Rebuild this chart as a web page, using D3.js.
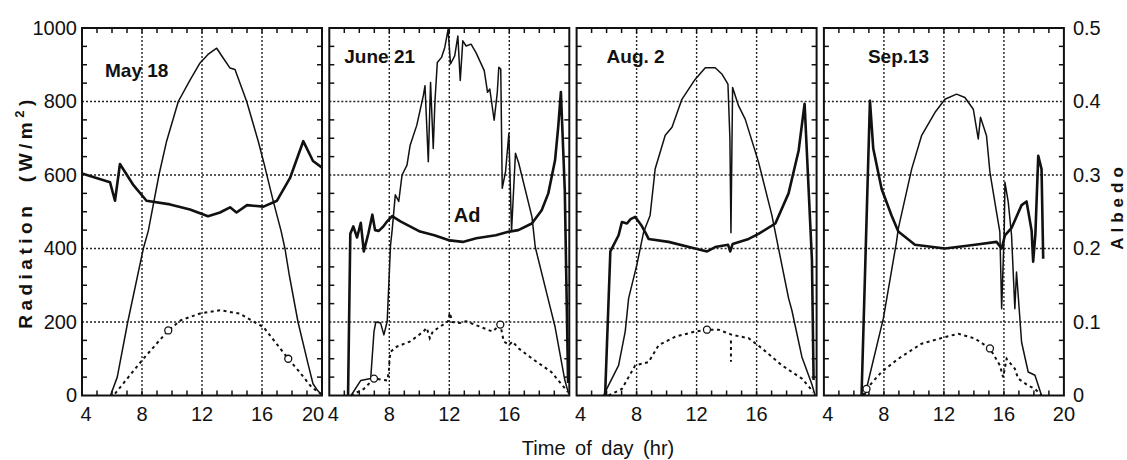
<!DOCTYPE html>
<html lang="en">
<head>
    <meta charset="UTF-8">
    <title>Radiation and albedo</title>
    <script src="https://cdn.jsdelivr.net/npm/d3@7"></script>
    <style>
        html, body {
            margin: 0;
            padding: 0;
            background: #fff;
            overflow: hidden;
        }
        .frame {
            fill: none;
            stroke: #111;
            stroke-width: 2px;
        }
        .grid {
            stroke: #222;
            stroke-width: 1.4px;
            stroke-dasharray: 2, 2;
        }
        .tick-mark {
            stroke: #111;
            stroke-width: 1.5px;
        }
        .solar {
            fill: none;
            stroke: #111;
            stroke-width: 1.5px;
            stroke-linejoin: round;
        }
        .albedo {
            fill: none;
            stroke: #111;
            stroke-width: 2.6px;
            stroke-linejoin: round;
        }
        .reflect {
            fill: none;
            stroke: #111;
            stroke-width: 2px;
            stroke-dasharray: 3, 3.5;
        }
        .marker {
            fill: #fff;
            stroke: #111;
            stroke-width: 1.3px;
        }
        .num {
            font-family: "Liberation Sans", Arial, sans-serif;
            font-size: 20px;
            fill: #111;
        }
        .date {
            font-family: "Liberation Sans", Arial, sans-serif;
            font-size: 19px;
            font-weight: bold;
            fill: #111;
        }
        .title {
            font-family: "Liberation Sans", Arial, sans-serif;
            font-size: 19px;
            font-weight: bold;
            fill: #111;
        }
    </style>
</head>
<body>
<script>
    // panel titles
    let dates = ['May 18', 'June 21', 'Aug. 2', 'Sep.13'];

    // tick values
    let hourTicks = [[4, 8, 12, 16, 20], [4, 8, 12, 16], [4, 8, 12, 16], [4, 8, 12, 16, 20]];
    let radTicks = [0, 200, 400, 600, 800, 1000];
    let albedoTicks = [0, 0.1, 0.2, 0.3, 0.4, 0.5];
    let gridHours = [8, 12, 16];

    // [hour, W/m2] global radiation (thin line)
    let maySolar = [[5.9, 0], [6.35, 50], [7.05, 200], [8.09, 400], [8.42, 448], [9.13, 600], [9.64, 692], [10.42, 800],
        [11.2, 858], [11.87, 905], [12.4, 928], [12.98, 945], [13.4, 919], [13.87, 891], [14.2, 887], [14.98, 800],
        [15.75, 692], [16.15, 629], [16.75, 529], [17.27, 448], [17.53, 400], [17.8, 332], [18.4, 200], [19.07, 86],
        [19.4, 32], [19.7, 14], [20, 0]];
    let juneSolar = [[5.45, 0], [6.1, 41], [6.76, 46], [6.98, 174], [7.1, 200], [7.42, 197], [7.64, 165], [7.86, 202],
        [8.08, 408], [8.19, 450], [8.4, 546], [8.63, 528], [8.85, 600], [9.18, 627], [9.39, 681], [9.83, 735],
        [10.27, 816], [10.38, 843], [10.6, 636], [10.75, 852], [10.93, 672], [11.04, 798], [11.2, 906], [11.48, 920],
        [11.7, 947], [11.92, 996], [12.08, 902], [12.36, 924], [12.57, 978], [12.73, 857], [12.9, 965], [13.12, 951],
        [13.45, 956], [13.78, 933], [14.33, 884], [14.55, 825], [14.7, 834], [14.99, 749], [15.2, 825], [15.3, 893],
        [15.43, 888], [15.53, 564], [15.75, 609], [15.97, 713], [16.15, 447], [16.41, 659], [16.63, 632],
        [17.51, 486], [17.73, 404], [18.72, 241], [19.05, 187], [19.7, 42], [19.95, 5]];
    let augSolar = [[5.8, 0], [5.9, 9], [6.8, 82], [7.24, 174], [7.47, 265], [8.02, 356], [8.47, 445], [8.9, 490],
        [9.24, 617], [9.91, 708], [10.36, 730], [11.02, 806], [11.9, 860], [12.58, 892], [13.24, 892], [13.7, 874],
        [14.09, 847], [14.22, 700], [14.29, 443], [14.4, 838], [14.8, 788], [15.24, 752], [16.13, 635], [17.02, 490],
        [17.24, 445], [18.13, 265], [18.35, 232], [19.02, 105], [19.69, 30], [19.9, 0]];
    let sepSolar = [[6.73, 0], [7.96, 209], [8.84, 418], [8.96, 454], [9.85, 616], [10.51, 707], [11.4, 770],
        [12.07, 806], [12.84, 820], [13.4, 811], [13.96, 779], [14.29, 698], [14.44, 757], [14.84, 707], [15.07, 607],
        [15.51, 498], [15.73, 445], [15.85, 236], [16.02, 445], [16.07, 580], [16.29, 526], [16.51, 436], [16.73, 236],
        [16.84, 336], [17.18, 145], [17.62, 64], [18.07, 55], [18.51, 0]];

    // [hour, W/m2] reflected radiation (dashed line)
    let mayReflect = [[6.2, 5], [8.09, 100], [9.75, 177], [10.6, 205], [11.87, 223], [13.2, 232], [14.5, 223],
        [16.1, 186], [17.75, 100], [18.5, 64], [19.3, 23], [19.9, 5]];
    let juneReflect = [[5.45, 0], [6.3, 18], [6.98, 46], [7.86, 41], [7.97, 64], [8.02, 100], [8.08, 119], [8.5, 133],
        [9.39, 147], [10.27, 174], [10.5, 184], [10.7, 156], [10.9, 174], [11.92, 202], [12.03, 225], [12.2, 200],
        [12.7, 197], [13.12, 202], [14, 188], [14.88, 174], [15.4, 193], [15.63, 147], [16, 138], [16.2, 147],
        [16.63, 128], [17.5, 101], [18.8, 64], [19.9, 10]];
    let augReflect = [[6.13, 0], [7.02, 18], [7.91, 82], [8.8, 91], [9.47, 137], [10.58, 160], [11.9, 174],
        [12.69, 179], [13.47, 179], [14.36, 165], [15.47, 156], [16.36, 128], [17.69, 82], [19.02, 46], [19.8, 9]];
    let augReflectDip = [[14.29, 150], [14.29, 92]];
    let sepReflect = [[6.6, 0], [6.84, 18], [7.84, 64], [8.96, 100], [10.51, 141], [12.07, 159], [12.96, 168],
        [14.07, 155], [15.07, 128], [15.73, 82], [15.95, 50], [16.18, 100], [16.73, 73], [16.95, 46], [17.62, 27],
        [18.07, 18], [18.51, 0]];

    // hours where the reflected curve carries an "o" marker
    let mayMarks = [9.75, 17.75];
    let juneMarks = [6.98, 15.4];
    let augMarks = [12.69];
    let sepMarks = [6.84, 15.07];

    // [hour, albedo] (thick line)
    let mayAlbedo = [[4, 0.302], [5.87, 0.29], [6.2, 0.265], [6.53, 0.315], [7.4, 0.287], [8.3, 0.265], [9.87, 0.26],
        [11.2, 0.253], [12.4, 0.244], [13.2, 0.249], [13.87, 0.256], [14.3, 0.249], [15, 0.259], [16.1, 0.257],
        [17, 0.265], [17.87, 0.296], [18.75, 0.346], [19.4, 0.319], [20, 0.31]];
    let juneAlbedo = [[5.25, 0], [5.4, 0.22], [5.6, 0.23], [5.85, 0.215], [6.1, 0.235], [6.3, 0.196], [6.6, 0.22],
        [6.87, 0.246], [7.05, 0.225], [7.3, 0.224], [7.6, 0.23], [7.86, 0.237], [8.19, 0.244], [8.74, 0.237],
        [10.05, 0.223], [11, 0.218], [12.03, 0.211], [12.9, 0.209], [13.8, 0.214], [15.1, 0.218], [16, 0.223],
        [16.6, 0.225], [17.5, 0.234], [18.16, 0.252], [18.6, 0.275], [19.05, 0.32], [19.26, 0.365], [19.44, 0.413],
        [19.7, 0.279], [19.92, 0.017]];
    let augAlbedo = [[5.9, 0], [6.25, 0.196], [6.8, 0.218], [7.02, 0.236], [7.36, 0.234], [7.6, 0.24], [7.91, 0.243],
        [8.3, 0.232], [8.58, 0.222], [8.8, 0.213], [10.13, 0.209], [11.9, 0.2], [12.7, 0.196], [13.24, 0.202],
        [14.1, 0.205], [14.24, 0.196], [14.4, 0.206], [15.47, 0.213], [16.13, 0.22], [17.25, 0.234], [18.13, 0.275],
        [18.8, 0.333], [19.2, 0.397], [19.69, 0.184], [19.8, 0.021]];
    let sepAlbedo = [[6.51, 0], [7.07, 0.401], [7.29, 0.336], [7.85, 0.281], [8.51, 0.245], [8.96, 0.223],
        [10.07, 0.205], [12.07, 0.2], [14.07, 0.205], [15.51, 0.209], [15.85, 0.2], [16.07, 0.218], [16.51, 0.228],
        [17.18, 0.259], [17.51, 0.264], [17.85, 0.224], [17.95, 0.182], [18.1, 0.22], [18.29, 0.326], [18.51, 0.308],
        [18.62, 0.186]];

    let panels = [
        {date: dates[0], solar: maySolar, reflect: [mayReflect], albedo: mayAlbedo, marks: mayMarks, ticks: hourTicks[0]},
        {date: dates[1], solar: juneSolar, reflect: [juneReflect], albedo: juneAlbedo, marks: juneMarks, ticks: hourTicks[1]},
        {date: dates[2], solar: augSolar, reflect: [augReflect, augReflectDip], albedo: augAlbedo, marks: augMarks, ticks: hourTicks[2]},
        {date: dates[3], solar: sepSolar, reflect: [sepReflect], albedo: sepAlbedo, marks: sepMarks, ticks: hourTicks[3]}
    ];

    let width = 1127;
    let height = 460;
    let plotTop = 28, plotBottom = 395.5;
    let panelW = 240, firstLeft = 82, step = 247.3;
    let dateOffsets = [[23, 49], [15, 35], [30, 35], [44, 35]];

    let svg = d3.select('body').append('svg')
        .attr('width', width)
        .attr('height', height);

    let y = d3.scaleLinear().domain([0, 1000]).range([plotBottom, plotTop]);
    let ya = d3.scaleLinear().domain([0, 0.5]).range([plotBottom, plotTop]);

    panels.forEach((p, i) => {
        let left = firstLeft + i * step;
        let x = d3.scaleLinear().domain([4, 20]).range([left, left + panelW]);
        let g = svg.append('g').classed('panel', true);

        // grid
        g.selectAll('.vgrid').data(gridHours).enter().append('line')
            .classed('grid', true)
            .attr('x1', d => x(d)).attr('x2', d => x(d))
            .attr('y1', plotTop).attr('y2', plotBottom);
        g.selectAll('.hgrid').data(radTicks.slice(1, -1)).enter().append('line')
            .classed('grid', true)
            .attr('x1', left).attr('x2', left + panelW)
            .attr('y1', d => y(d)).attr('y2', d => y(d));

        // hour ticks top and bottom
        let hours = d3.range(5, 20);
        g.selectAll('.ttick').data(hours).enter().append('line')
            .classed('tick-mark', true)
            .attr('x1', d => x(d)).attr('x2', d => x(d))
            .attr('y1', plotTop).attr('y2', plotTop + 5);
        g.selectAll('.btick').data(hours).enter().append('line')
            .classed('tick-mark', true)
            .attr('x1', d => x(d)).attr('x2', d => x(d))
            .attr('y1', plotBottom).attr('y2', plotBottom - 5);

        // side ticks
        let sideVals = d3.range(50, 1000, 50).filter(v => v % 200 !== 0);
        [left, left + panelW].forEach((sx, k) => {
            g.selectAll('.stick' + k).data(sideVals).enter().append('line')
                .classed('tick-mark', true)
                .attr('x1', sx).attr('x2', k === 0 ? sx + 5 : sx - 5)
                .attr('y1', d => y(d)).attr('y2', d => y(d));
        });

        let line = d3.line().x(d => x(d[0])).y(d => y(d[1]));
        let lineA = d3.line().x(d => x(d[0])).y(d => ya(d[1]));

        g.append('path').datum(p.solar).classed('solar', true).attr('d', line);
        p.reflect.forEach(r => {
            g.append('path').datum(r).classed('reflect', true).attr('d', line);
        });
        g.append('path').datum(p.albedo).classed('albedo', true).attr('d', lineA);

        let interp = h => {
            let r = p.reflect[0];
            for (let k = 1; k < r.length; k++) {
                if (h <= r[k][0]) {
                    let t = (h - r[k - 1][0]) / (r[k][0] - r[k - 1][0]);
                    return r[k - 1][1] + t * (r[k][1] - r[k - 1][1]);
                }
            }
            return r[r.length - 1][1];
        };
        g.selectAll('.marker').data(p.marks).enter().append('circle')
            .classed('marker', true)
            .attr('cx', d => x(d))
            .attr('cy', d => y(interp(d)))
            .attr('r', 3.5);

        // frame
        g.append('rect').classed('frame', true)
            .attr('x', left).attr('y', plotTop)
            .attr('width', panelW).attr('height', plotBottom - plotTop);

        // bottom labels
        g.selectAll('.xlabel').data(p.ticks).enter().append('text')
            .classed('num', true)
            .attr('x', d => x(d) + (d === 4 ? 4 : d === 20 && i === 0 ? -9 : 0))
            .attr('y', 421)
            .attr('text-anchor', 'middle')
            .text(d => d);

        g.append('text').classed('date', true)
            .attr('x', left + dateOffsets[i][0])
            .attr('y', plotTop + dateOffsets[i][1])
            .text(p.date);

        if (i === 1) {
            g.append('text').classed('date', true)
                .attr('x', x(12.3)).attr('y', 222)
                .style('font-size', '20px')
                .text('Ad');
        }
    });

    // left axis
    svg.append('g')
        .attr('transform', `translate(${firstLeft},0)`)
        .call(d3.axisLeft(y).tickValues(radTicks).tickSize(0).tickPadding(5).tickFormat(d3.format('d')))
        .call(g => g.select('.domain').remove())
        .selectAll('text').attr('class', 'num').attr('font-size', null).attr('font-family', null);

    // right axis
    let rightX = firstLeft + 3 * step + panelW;
    svg.append('g')
        .attr('transform', `translate(${rightX},0)`)
        .call(d3.axisRight(ya).tickValues(albedoTicks).tickSize(0).tickPadding(9)
            .tickFormat(d => d === 0 ? '0' : d3.format('.1f')(d)))
        .call(g => g.select('.domain').remove())
        .selectAll('text').attr('class', 'num').attr('font-size', null).attr('font-family', null);

    // axis titles
    let ytitle = svg.append('text').classed('title', true)
        .attr('transform', 'translate(32,212) rotate(-90)')
        .attr('text-anchor', 'middle')
        .style('letter-spacing', '4.5px');
    ytitle.append('tspan').text('Radiation\u00a0\u00a0(W/m');
    ytitle.append('tspan').attr('dy', -8).style('font-size', '13px').text('2');
    ytitle.append('tspan').attr('dy', 8).text(')');

    svg.append('text').classed('title', true)
        .attr('transform', 'translate(1123,206) rotate(-90)')
        .attr('text-anchor', 'middle')
        .style('font-size', '17px')
        .style('letter-spacing', '5px')
        .text('Albedo');

    svg.append('text')
        .attr('x', 598).attr('y', 455)
        .attr('text-anchor', 'middle')
        .style('font-family', '"Liberation Sans", Arial, sans-serif')
        .style('font-size', '20px')
        .style('word-spacing', '4px')
        .style('fill', '#111')
        .text('Time of day (hr)');
</script>
</body>
</html>
